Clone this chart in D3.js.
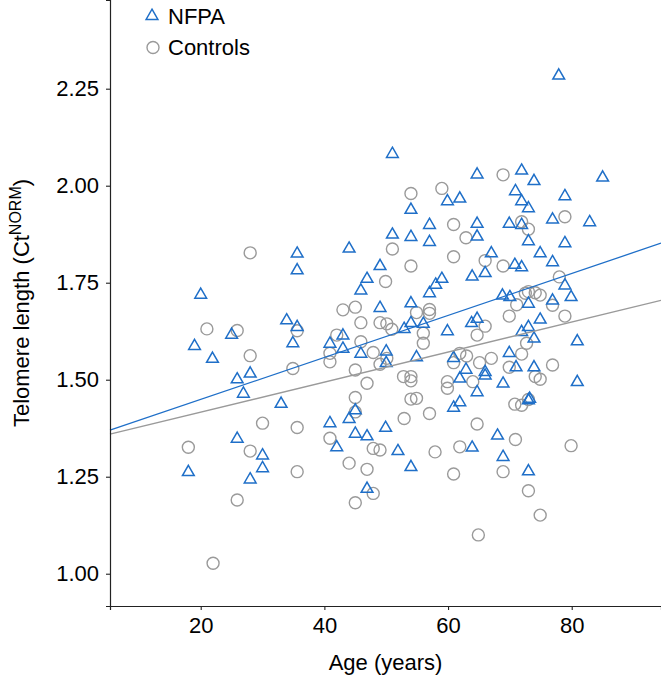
<!DOCTYPE html>
<html>
<head>
<meta charset="utf-8">
<script src="https://cdn.jsdelivr.net/npm/d3@7"></script>
<style>
  html, body { margin: 0; padding: 0; background: #fff; }
  svg { display: block; }
  text { font-family: "Liberation Sans", Arial, Helvetica, sans-serif; fill: #000; }
</style>
</head>
<body>
<svg id="chart" width="661" height="678"></svg>
<script>
// ---- Data ----
const groups = ["NFPA", "Controls"];

const nfpaAge = [35.6,35.6,20.0,25.0,19.0,21.9,33.9,35.6,34.9,28.0,25.9,26.9,33.0,25.9,30.0,30.0,18.0,28.0,
  51.0,64.7,59.9,61.9,54.0,57.0,64.7,64.7,51.0,54.0,57.0,44.0,49.0,46.9,45.9,59.0,58.0,57.0,63.9,54.0,49.0,
  43.0,40.9,43.0,45.9,50.0,50.0,52.9,54.0,56.0,54.9,59.9,63.8,64.7,60.9,62.9,61.9,64.7,45.0,44.0,40.9,60.9,61.9,49.9,45.0,46.9,42.0,51.9,63.9,54.0,46.9,
  67.0,70.8,71.9,66.0,68.8,70.0,73.0,71.9,73.0,73.9,69.9,71.0,73.9,68.9,66.0,66.0,
  77.9,71.9,73.9,85.0,70.9,71.9,73.0,78.9,76.9,82.9,69.9,71.9,73.0,78.9,74.9,76.9,78.9,
  76.9,79.9,74.9,80.9,80.9,73.0,73.2,68.0,68.9,73.0];
const nfpaTL = [1.826,1.783,1.720,1.617,1.588,1.555,1.654,1.637,1.595,1.517,1.502,1.465,1.439,1.349,1.306,1.273,1.263,1.244,
  2.083,2.030,1.961,1.968,1.939,1.900,1.903,1.870,1.875,1.869,1.856,1.839,1.794,1.761,1.731,1.761,1.746,1.724,1.767,1.698,1.686,
  1.615,1.594,1.581,1.568,1.574,1.544,1.632,1.647,1.645,1.559,1.626,1.647,1.658,1.557,1.527,1.504,1.469,1.422,1.400,1.389,1.429,1.443,1.377,1.362,1.355,1.327,1.317,1.326,1.276,1.220,
  1.827,1.797,1.791,1.776,1.718,1.714,1.697,1.624,1.637,1.607,1.570,1.533,1.533,1.491,1.521,1.512,
  2.285,2.040,2.013,2.022,1.987,1.961,1.943,1.974,1.914,1.907,1.903,1.900,1.858,1.853,1.827,1.804,1.744,
  1.705,1.714,1.656,1.600,1.495,1.448,1.452,1.357,1.302,1.265];

const ctrlAge = [28.0,21.0,25.9,28.0,35.6,34.9,30.0,35.6,18.0,28.0,35.6,25.9,22.0,
  59.0,54.0,60.9,62.9,51.0,60.9,54.0,49.9,43.0,45.0,57.0,57.0,54.9,
  45.9,49.0,50.1,50.9,42.0,40.9,40.9,45.9,47.9,49.0,50.1,56.0,56.0,64.7,60.9,61.9,63.0,45.0,46.9,52.8,54.0,54.0,54.0,54.9,59.9,59.9,64.0,45.0,45.0,52.9,57.0,40.9,47.9,49.0,57.9,61.9,64.7,44.0,46.9,60.9,47.9,45.0,64.9,
  66.0,68.9,66.0,71.1,69.9,72.7,71.9,69.9,74.1,67.0,65.1,
  68.9,78.9,71.9,73.0,78.0,
  73.0,74.1,74.9,72.5,76.9,78.9,76.9,74.9,70.8,71.9,73.0,70.9,79.9,68.9,73.0,74.9];
const ctrlTL = [1.827,1.631,1.627,1.562,1.626,1.529,1.388,1.377,1.326,1.316,1.263,1.190,1.027,
  1.993,1.980,1.900,1.866,1.837,1.817,1.793,1.753,1.680,1.687,1.681,1.671,1.673,
  1.647,1.647,1.644,1.630,1.615,1.568,1.546,1.598,1.570,1.540,1.555,1.620,1.594,1.615,1.544,1.568,1.561,1.525,1.491,1.508,1.508,1.497,1.450,1.452,1.495,1.478,1.495,1.454,1.417,1.400,1.413,1.349,1.323,1.319,1.314,1.327,1.386,1.285,1.269,1.257,1.207,1.183,1.100,
  1.807,1.793,1.638,1.693,1.664,1.594,1.566,1.532,1.508,1.555,1.544,
  2.028,1.920,1.907,1.888,1.765,
  1.727,1.724,1.718,1.723,1.692,1.664,1.538,1.501,1.437,1.434,1.449,1.346,1.330,1.263,1.214,1.151];

// linear fits (intercept, slope) per group
const fitIntercept = [1.341, 1.339];
const fitSlope = [0.00541, 0.00387];

const xTicks = [20, 40, 60, 80];
const yTicks = [1.00, 1.25, 1.50, 1.75, 2.00, 2.25];
const xDomain = [5.33, 94.44];
const yDomain = [0.9168, 2.4786];

// ---- Layout ----
const svg = d3.select("#chart");
const mLeft = 110, mRight = 661, mTop = 0, mBottom = 606;
const blue = "#1f6fc8", grey = "#9a9a9a";
const fs = 22;

const x = d3.scaleLinear().domain(xDomain).range([mLeft, mRight]);
const y = d3.scaleLinear().domain(yDomain).range([mBottom, mTop]);

const ctrl = ctrlAge.map((a, i) => ({age: a, tl: ctrlTL[i]}));
const nfpa = nfpaAge.map((a, i) => ({age: a, tl: nfpaTL[i]}));

// Controls (open circles)
svg.append("g").selectAll("circle").data(ctrl).join("circle")
  .attr("cx", d => x(d.age)).attr("cy", d => y(d.tl)).attr("r", 6)
  .attr("fill", "none").attr("stroke", grey).attr("stroke-width", 1.4);

// NFPA (open triangles)
const tri = d3.symbol().type(d3.symbolTriangle).size(60);
svg.append("g").selectAll("path").data(nfpa).join("path")
  .attr("d", tri)
  .attr("transform", d => `translate(${x(d.age)},${y(d.tl) + 0.5})`)
  .attr("fill", "none").attr("stroke", blue).attr("stroke-width", 1.5);

// Regression lines
const lineColors = [blue, grey];
groups.forEach((g, i) => {
  const pts = xDomain.map(a => [a, fitIntercept[i] + fitSlope[i] * a]);
  svg.append("path")
    .attr("d", d3.line().x(d => x(d[0])).y(d => y(d[1]))(pts))
    .attr("fill", "none").attr("stroke", lineColors[i]).attr("stroke-width", 1.3);
});

// Axes
const xAxis = d3.axisBottom(x).tickValues(xTicks).tickSize(4).tickPadding(7).tickFormat(d3.format("d"));
const gx = svg.append("g").attr("transform", `translate(0,${mBottom})`).call(xAxis);
gx.select(".domain").attr("stroke", "#222").attr("stroke-width", 1.2);
gx.selectAll(".tick line").attr("stroke", "#222").attr("stroke-width", 1.1);
gx.selectAll(".tick text").attr("font-size", fs).attr("font-family", "Liberation Sans, Arial, sans-serif").attr("fill", "#000");

const yAxis = d3.axisLeft(y).tickValues(yTicks).tickSize(4).tickPadding(7).tickFormat(d3.format(".2f"));
const gy = svg.append("g").attr("transform", `translate(${mLeft},0)`).call(yAxis);
gy.select(".domain").attr("stroke", "#222").attr("stroke-width", 1.2);
gy.selectAll(".tick line").attr("stroke", "#222").attr("stroke-width", 1.1);
gy.selectAll(".tick text").attr("font-size", fs).attr("font-family", "Liberation Sans, Arial, sans-serif").attr("fill", "#000");

// Axis titles
svg.append("text").attr("x", (mLeft + mRight) / 2).attr("y", 670)
  .attr("text-anchor", "middle").attr("font-size", fs).text("Age (years)");

const yt = svg.append("text").attr("transform", `translate(29,${(mTop + mBottom) / 2}) rotate(-90)`)
  .attr("text-anchor", "middle").attr("font-size", fs);
yt.append("tspan").text("Telomere length (Ct");
yt.append("tspan").attr("font-size", 16).attr("dy", -8).text("NORM");
yt.append("tspan").attr("dy", 8).text(")");

// Legend
const leg = svg.append("g");
leg.append("path").attr("d", tri).attr("transform", "translate(152,16)")
  .attr("fill", "none").attr("stroke", blue).attr("stroke-width", 1.5);
leg.append("text").attr("x", 168).attr("y", 23.5).attr("font-size", fs).text(groups[0]);
leg.append("circle").attr("cx", 153).attr("cy", 47.5).attr("r", 6)
  .attr("fill", "none").attr("stroke", grey).attr("stroke-width", 1.4);
leg.append("text").attr("x", 168).attr("y", 55).attr("font-size", fs).text(groups[1]);
</script>
</body>
</html>
